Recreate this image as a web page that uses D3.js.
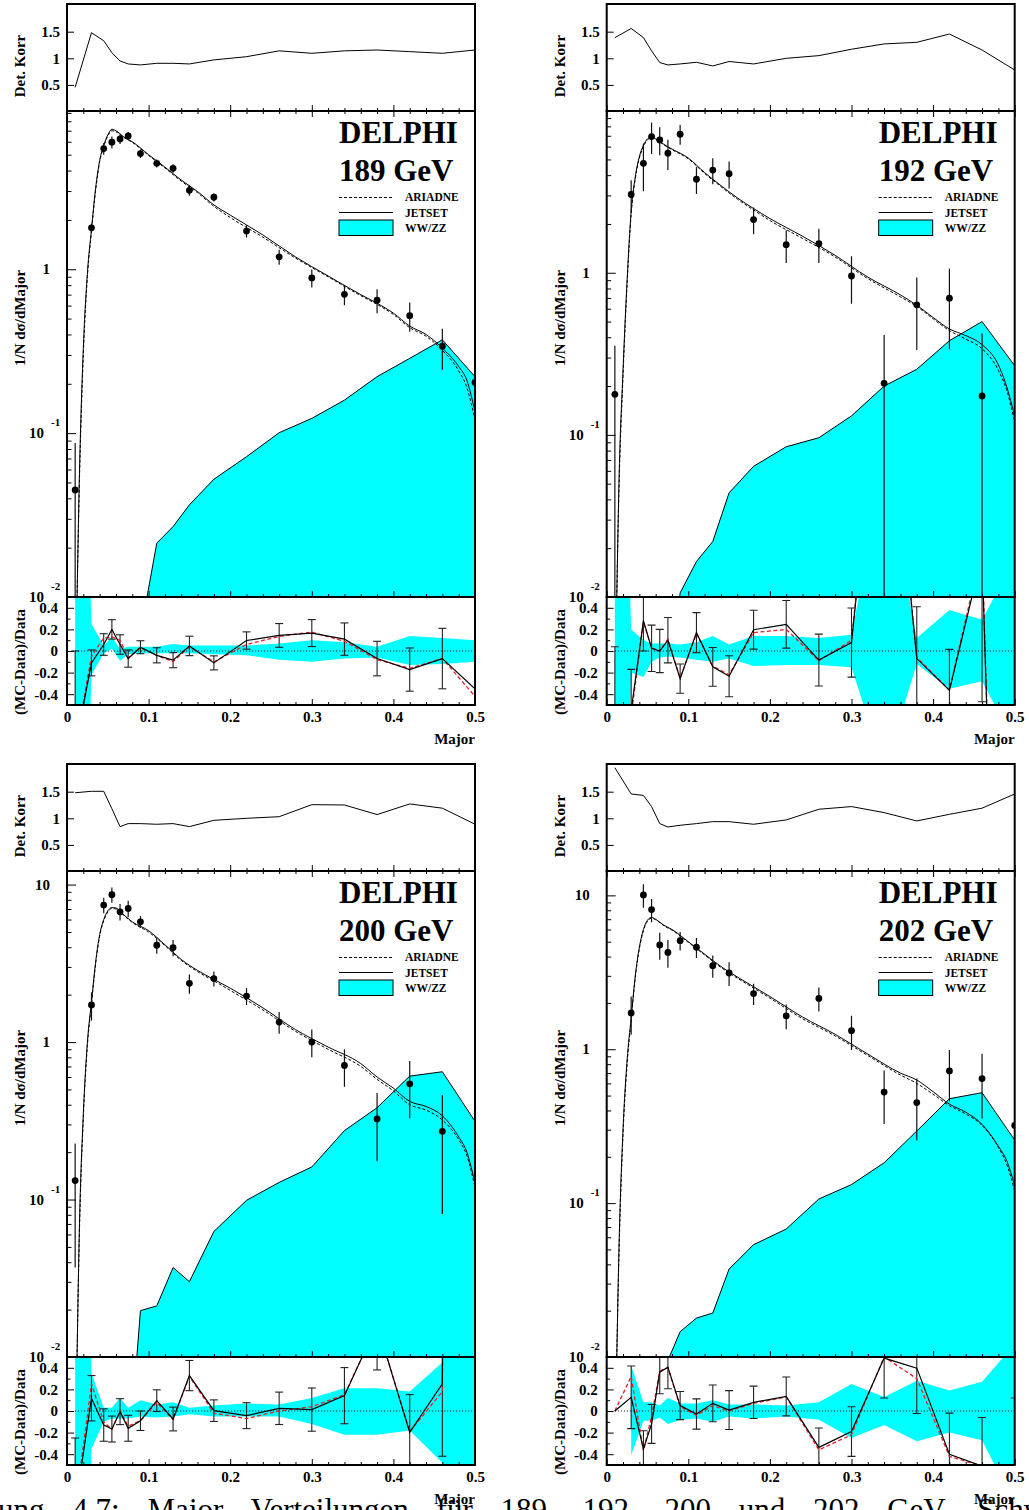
<!DOCTYPE html>
<html>
<head>
<meta charset="utf-8">
<script src="https://cdn.jsdelivr.net/npm/d3@7"></script>
<style>
body { margin: 0; background: #fff; }
svg text { font-family: "Liberation Serif", "DejaVu Serif", serif; font-weight: bold; fill: #000; }
</style>
</head>
<body>
<svg id="chart" width="1029" height="1510"></svg>
<script>
// bin centres of the measured distribution
var binX = [0.01, 0.03, 0.045, 0.055, 0.065, 0.075, 0.09, 0.11, 0.13, 0.15, 0.18, 0.22, 0.26, 0.30, 0.34, 0.38, 0.42, 0.46, 0.50];
// sampling points of the MC curves
var mcX = [0.012, 0.015, 0.02, 0.025, 0.03, 0.035, 0.04, 0.045, 0.05, 0.055, 0.06, 0.07, 0.08, 0.10, 0.12, 0.14, 0.16, 0.18, 0.20, 0.24, 0.28, 0.32, 0.36, 0.38, 0.40, 0.42, 0.44, 0.46, 0.48, 0.49, 0.50];

var xTicks = [0, 0.1, 0.2, 0.3, 0.4, 0.5];
var xTickLabels = ["0", "0.1", "0.2", "0.3", "0.4", "0.5"];
var korrTicks = [0.5, 1, 1.5];
var korrTickLabels = ["0.5", "1", "1.5"];
var ratioTicks = [-0.4, -0.2, 0, 0.2, 0.4];
var ratioTickLabels = ["-0.4", "-0.2", "0", "0.2", "0.4"];
var logTicks = [0.01, 0.1, 1, 10];
var logTickBase = ["10", "10", "1", "10"];
var logTickExp = ["-2", "-1", "", ""];

// detector correction
var korr189 = [0.456, 1.48, 1.33, 1.105, 0.95, 0.894, 0.875, 0.906, 0.906, 0.894, 0.97, 1.03, 1.14, 1.094, 1.14, 1.156, 1.125, 1.094, 1.156];
var korr192 = [1.387, 1.56, 1.39, 1.14, 0.92, 0.875, 0.894, 0.925, 0.856, 0.94, 0.894, 1.0, 1.05, 1.17, 1.27, 1.30, 1.456, 1.156, 0.78];
var korr200 = [1.48, 1.507, 1.507, 1.18, 0.844, 0.9, 0.9, 0.888, 0.9, 0.844, 0.962, 1.0, 1.03, 1.256, 1.25, 1.07, 1.27, 1.19, 0.888];
var korr202 = [1.95, 1.457, 1.43, 1.22, 0.9, 0.837, 0.869, 0.9, 0.937, 0.937, 0.888, 0.969, 1.17, 1.22, 1.107, 0.95, 1.075, 1.19, 1.457];

// data 1/N dsigma/dMajor with errors
var data189 = [0.045, 1.79, 5.45, 5.96, 6.24, 6.51, 5.08, 4.43, 4.13, 3.03, 2.75, 1.71, 1.19, 0.885, 0.703, 0.647, 0.521, 0.339, 0.204];
var err189 = [0.042, 0.11, 0.45, 0.5, 0.43, 0.36, 0.3, 0.25, 0.25, 0.22, 0.16, 0.15, 0.125, 0.11, 0.1, 0.108, 0.105, 0.095, 0.03];
var data192 = [0.178, 3.04, 4.73, 6.92, 6.6, 5.46, 7.15, 3.78, 4.3, 4.08, 2.13, 1.49, 1.51, 0.955, 0.208, 0.634, 0.697, 0.174, null];
var err192 = [0.177, 0.68, 1.55, 1.52, 1.3, 1.15, 1.0, 0.72, 0.79, 0.77, 0.4, 0.34, 0.36, 0.31, 0.205, 0.3, 0.36, 0.25, null];
var data200 = [0.132, 1.72, 7.41, 8.62, 6.72, 7.06, 5.8, 4.12, 3.98, 2.36, 2.53, 1.96, 1.34, 1.0, 0.71, 0.325, 0.543, 0.271, null];
var err200 = [0.095, 0.35, 0.83, 0.95, 0.8, 0.85, 0.5, 0.48, 0.47, 0.33, 0.28, 0.24, 0.21, 0.2, 0.19, 0.15, 0.215, 0.19, null];
var data202 = [null, 1.72, 10.07, 8.08, 4.76, 4.26, 5.08, 4.6, 3.49, 3.13, 2.3, 1.65, 2.14, 1.32, 0.527, 0.45, 0.723, 0.645, 0.32];
var err202 = [null, 0.48, 1.75, 1.4, 0.95, 0.87, 0.7, 0.68, 0.58, 0.55, 0.36, 0.3, 0.38, 0.33, 0.2, 0.195, 0.265, 0.29, 0.1];

// MC predictions (JETSET solid, ARIADNE dashed)
var jet189 = [0.008, 0.05, 0.33, 0.95, 1.75, 3.1, 4.6, 5.7, 6.6, 7.15, 7.0, 6.4, 6.0, 5.0, 4.2, 3.5, 2.98, 2.47, 2.14, 1.62, 1.19, 0.91, 0.70, 0.62, 0.54, 0.45, 0.40, 0.33, 0.255, 0.21, 0.135];
var ari189 = [0.008, 0.045, 0.3, 0.9, 1.7, 3.0, 4.5, 5.6, 6.5, 7.0, 6.9, 6.35, 5.95, 4.95, 4.15, 3.45, 2.93, 2.42, 2.07, 1.57, 1.17, 0.9, 0.69, 0.61, 0.53, 0.44, 0.39, 0.32, 0.24, 0.19, 0.12];
var jet192 = [0.008, 0.05, 0.25, 0.9, 2.4, 3.9, 5.2, 6.1, 6.7, 6.85, 6.7, 6.2, 5.8, 5.1, 4.15, 3.45, 2.9, 2.49, 2.16, 1.68, 1.28, 0.94, 0.73, 0.63, 0.53, 0.45, 0.41, 0.36, 0.27, 0.2, 0.13];
var ari192 = [0.008, 0.045, 0.23, 0.85, 2.3, 3.8, 5.1, 6.0, 6.6, 6.8, 6.65, 6.15, 5.75, 5.05, 4.1, 3.4, 2.85, 2.44, 2.1, 1.63, 1.25, 0.92, 0.71, 0.62, 0.52, 0.44, 0.39, 0.34, 0.25, 0.19, 0.12];
var jet200 = [0.008, 0.06, 0.35, 1.0, 1.8, 3.2, 4.8, 6.0, 6.8, 7.15, 7.1, 6.4, 5.8, 5.1, 4.15, 3.35, 2.85, 2.5, 2.2, 1.65, 1.2, 0.93, 0.73, 0.6, 0.51, 0.42, 0.39, 0.34, 0.25, 0.2, 0.127];
var ari200 = [0.008, 0.055, 0.33, 0.95, 1.75, 3.1, 4.7, 5.9, 6.7, 7.05, 7.0, 6.35, 5.75, 5.0, 4.1, 3.3, 2.8, 2.45, 2.13, 1.6, 1.17, 0.9, 0.7, 0.58, 0.49, 0.4, 0.37, 0.32, 0.24, 0.19, 0.12];
var jet202 = [0.008, 0.05, 0.3, 0.85, 1.6, 3.0, 4.6, 6.0, 6.9, 7.2, 7.0, 6.4, 6.0, 5.0, 4.15, 3.45, 2.95, 2.55, 2.2, 1.62, 1.25, 0.93, 0.7, 0.631, 0.53, 0.44, 0.39, 0.325, 0.234, 0.19, 0.13];
var ari202 = [0.008, 0.045, 0.28, 0.8, 1.55, 2.9, 4.5, 5.9, 6.8, 7.1, 6.95, 6.35, 5.95, 4.95, 4.1, 3.4, 2.9, 2.5, 2.15, 1.58, 1.22, 0.91, 0.68, 0.6, 0.51, 0.43, 0.38, 0.32, 0.23, 0.18, 0.12];

// WW/ZZ background
var ww189 = [1e-4, 1e-4, 1e-4, 1e-4, 1e-4, 1e-4, 0.006, 0.0213, 0.0269, 0.0365, 0.0523, 0.0718, 0.1006, 0.123, 0.159, 0.221, 0.286, 0.371, 0.221];
var ww192 = [1e-4, 1e-4, 1e-4, 1e-4, 1e-4, 0.002, 0.0106, 0.01655, 0.022, 0.0439, 0.064, 0.0845, 0.096, 0.131, 0.2, 0.254, 0.381, 0.5, 0.267];
var ww200 = [1e-4, 1e-4, 1e-4, 1e-4, 1e-4, 0.002, 0.0197, 0.0211, 0.037, 0.0301, 0.0627, 0.0988, 0.1285, 0.161, 0.274, 0.383, 0.608, 0.648, 0.314];
var ww202 = [1e-4, 1e-4, 1e-4, 1e-4, 0.001, 0.0095, 0.0146, 0.0179, 0.0193, 0.0373, 0.0537, 0.0679, 0.1064, 0.132, 0.183, 0.294, 0.477, 0.522, 0.257];

// (MC-Data)/Data : JETSET (black), ARIADNE (red), errors, WW/ZZ band
var rj189 = [-0.9, -0.11, 0.06, 0.2, 0.06, -0.07, 0.035, -0.04, -0.085, 0.047, -0.11, 0.097, 0.144, 0.166, 0.11, -0.07, -0.172, -0.07, -0.35];
var ra189 = [-0.9, -0.05, 0.12, 0.13, 0.1, -0.06, 0.03, -0.04, -0.1, 0.04, -0.1, 0.06, 0.135, 0.175, 0.09, -0.08, -0.16, -0.07, -0.42];
var re189 = [0.9, 0.12, 0.1, 0.09, 0.09, 0.08, 0.06, 0.07, 0.07, 0.09, 0.065, 0.08, 0.11, 0.125, 0.15, 0.16, 0.2, 0.28, 0];
var bu189 = [5, 0.25, 0.05, 0.13, 0.02, 0.04, 0.04, 0.04, 0.065, 0.05, 0.05, 0.05, 0.07, 0.1, 0.08, 0.04, 0.14, 0.12, 0.1];
var bl189 = [-5, -0.22, -0.02, 0.02, -0.09, -0.03, -0.02, -0.02, -0.02, -0.02, -0.03, -0.04, -0.08, -0.1, -0.07, -0.06, -0.13, -0.12, -0.1];

var rj192 = [-1.5, -0.55, 0.28, 0.025, 0.0, 0.1, -0.256, 0.17, -0.147, -0.234, 0.197, 0.247, -0.084, 0.078, 3.0, -0.07, -0.365, 0.89, -9];
var ra192 = [-1.5, -0.6, 0.27, 0.03, 0.0, 0.11, -0.25, 0.16, -0.14, -0.22, 0.17, 0.2, -0.09, 0.1, 3.0, -0.06, -0.36, 0.95, -9];
var re192 = [1.54, 0.38, 0.28, 0.215, 0.2, 0.21, 0.135, 0.185, 0.18, 0.19, 0.18, 0.22, 0.24, 0.32, 0, 0.48, 0.38, 1.36, 0];
var bu192 = [5, 0.2, 0.1, 0.07, 0.07, 0.07, 0.06, 0.08, 0.14, 0.06, 0.14, 0.14, 0.12, 0.15, 1.7, 0.12, 0.38, 0.29, 0.85];
var bl192 = [-5, -0.2, -0.24, -0.1, -0.06, -0.05, -0.06, -0.08, -0.1, -0.07, -0.14, -0.13, -0.13, -0.15, -1.1, -0.12, -0.35, -0.28, -0.85];

var rj200 = [-0.9, 0.118, -0.13, -0.167, -0.006, -0.16, -0.09, 0.096, -0.074, 0.328, 0.003, -0.043, 0.025, 0.013, 0.142, 0.8, -0.198, 0.251, 50];
var ra200 = [-0.9, 0.25, -0.1, -0.17, 0.0, -0.14, -0.09, 0.08, -0.08, 0.32, -0.02, -0.07, 0.0, 0.04, 0.15, 0.8, -0.19, 0.18, 50];
var re200 = [0.65, 0.21, 0.15, 0.12, 0.12, 0.12, 0.09, 0.1, 0.11, 0.14, 0.1, 0.12, 0.15, 0.2, 0.26, 0.42, 0.35, 0.67, 0];
var bu200 = [5, 0.35, 0.03, 0.03, 0.12, 0.03, 0.1, 0.06, 0.08, 0.03, 0.05, 0.07, 0.06, 0.12, 0.21, 0.21, 0.18, 0.45, 3];
var bl200 = [-5, -0.35, -0.1, -0.07, -0.07, -0.07, -0.05, -0.06, -0.05, -0.03, -0.05, -0.05, -0.05, -0.12, -0.22, -0.22, -0.18, -0.48, -3];

var rj202 = [0.0, 0.127, -0.353, -0.12, 0.36, 0.406, 0.05, -0.028, 0.071, 0.009, 0.08, 0.135, -0.337, -0.19, 0.49, 0.397, -0.4, -0.51, -0.8];
var ra202 = [0.0, 0.32, -0.37, -0.05, 0.37, 0.4, 0.04, -0.04, 0.05, 0.0, 0.07, 0.13, -0.36, -0.22, 0.5, 0.3, -0.42, -0.51, -0.8];
var re202 = [0, 0.29, 0.17, 0.18, 0.2, 0.2, 0.13, 0.14, 0.17, 0.18, 0.15, 0.18, 0.18, 0.23, 0.37, 0.42, 0.38, 0.45, 0.92];
var bu202 = [null, 0.42, 0.08, 0.08, 0.05, 0.12, 0.07, 0.07, 0.1, 0.06, 0.06, 0.05, 0.08, 0.25, 0.13, 0.28, 0.19, 0.27, 0.62];
var bl202 = [null, -0.41, -0.09, -0.09, -0.06, -0.12, -0.08, -0.07, -0.1, -0.05, -0.07, -0.05, -0.08, -0.25, -0.13, -0.28, -0.2, -0.27, -0.87];

var panels = [
  {energy: "189 GeV", col: 0, row: 0, ymax: 9.24, korr: korr189, data: data189, err: err189, jet: jet189, ari: ari189, ww: ww189, rj: rj189, ra: ra189, re: re189, bu: bu189, bl: bl189},
  {energy: "192 GeV", col: 1, row: 0, ymax: 9.95, korr: korr192, data: data192, err: err192, jet: jet192, ari: ari192, ww: ww192, rj: rj192, ra: ra192, re: re192, bu: bu192, bl: bl192},
  {energy: "200 GeV", col: 0, row: 1, ymax: 12.2, korr: korr200, data: data200, err: err200, jet: jet200, ari: ari200, ww: ww200, rj: rj200, ra: ra200, re: re200, bu: bu200, bl: bl200},
  {energy: "202 GeV", col: 1, row: 1, ymax: 14.4, korr: korr202, data: data202, err: err202, jet: jet202, ari: ari202, ww: ww202, rj: rj202, ra: ra202, re: re202, bu: bu202, bl: bl202}
];

var svg = d3.select("#chart");
var defs = svg.append("defs");
var CYAN = "#00ffff", RED = "#e8202a";

function makeClip(id, x0, y0, w, h) {
  defs.append("clipPath").attr("id", id).append("rect")
    .attr("x", x0).attr("y", y0).attr("width", w).attr("height", h);
  return "url(#" + id + ")";
}

function tickAxis(g, axis, y) {
  var a = g.append("g").attr("transform", "translate(0," + y + ")").call(axis);
  a.select(".domain").remove();
  a.selectAll("line").attr("stroke", "#000").attr("stroke-width", 1);
  return a;
}

function drawPanel(p, idx) {
  var x0 = p.col ? 606.7 : 67, x1 = x0 + 408, yo = p.row * 760;
  var x = d3.scaleLinear().domain([0, 0.5]).range([x0, x1]);
  var yK = d3.scaleLinear().domain([0.01, 2.02]).range([yo + 111, yo + 4]);
  var yM = d3.scaleLog().domain([0.01, p.ymax]).range([yo + 597, yo + 111]);
  var yR = d3.scaleLinear().domain([-0.5, 0.5]).range([yo + 705, yo + 597]);
  var g = svg.append("g");
  var minorX = d3.range(0.02, 0.5, 0.02).filter(function (v) { return Math.abs(v * 10 - Math.round(v * 10)) > 1e-6; });

  // ---------- Det. Korr pad ----------
  var cK = makeClip("ck" + idx, x0, yo + 4, 408, 107);
  g.append("path").datum(p.korr)
    .attr("clip-path", cK)
    .attr("fill", "none").attr("stroke", "#000").attr("stroke-width", 1)
    .attr("d", d3.line().x(function (d, i) { return x(binX[i]); }).y(function (d) { return yK(d); }));
  tickAxis(g, d3.axisBottom(x).tickValues(xTicks).tickSize(-6).tickFormat(""), yo + 111);
  tickAxis(g, d3.axisBottom(x).tickValues(minorX).tickSize(-3).tickFormat(""), yo + 111);
  var ka = g.append("g").attr("transform", "translate(" + x0 + ",0)")
    .call(d3.axisLeft(yK).tickValues(korrTicks).tickSize(-7).tickPadding(7)
      .tickFormat(function (d, i) { return korrTickLabels[i]; }));
  ka.select(".domain").remove();
  ka.selectAll("text").style("font-size", "15px");
  g.append("rect").attr("x", x0).attr("y", yo + 4).attr("width", 408).attr("height", 107)
    .attr("fill", "none").attr("stroke", "#000").attr("stroke-width", 2);
  g.append("text").attr("transform", "translate(" + (x0 - 42) + "," + (yo + 66) + ") rotate(-90)")
    .attr("text-anchor", "middle").style("font-size", "15px").text("Det. Korr");

  // ---------- main pad ----------
  var cM = makeClip("cm" + idx, x0, yo + 111, 408, 486);
  g.append("path").datum(p.ww)
    .attr("clip-path", cM)
    .attr("fill", CYAN).attr("stroke", "none")
    .attr("d", d3.area().x(function (d, i) { return x(binX[i]); }).y0(yo + 610).y1(function (d) { return yM(d); }));
  g.append("path").datum(p.ww)
    .attr("clip-path", cM)
    .attr("fill", "none").attr("stroke", "#000").attr("stroke-width", 1)
    .attr("d", d3.line().x(function (d, i) { return x(binX[i]); }).y(function (d) { return yM(d); }));

  var mcLine = d3.line().curve(d3.curveMonotoneX)
    .x(function (d, i) { return x(mcX[i]); }).y(function (d) { return yM(d); });
  g.append("path").datum(p.ari).attr("clip-path", cM)
    .attr("fill", "none").attr("stroke", "#000").attr("stroke-width", 1).attr("stroke-dasharray", "3,2")
    .attr("d", mcLine);
  g.append("path").datum(p.jet).attr("clip-path", cM)
    .attr("fill", "none").attr("stroke", "#000").attr("stroke-width", 1)
    .attr("d", mcLine);

  var pts = binX.map(function (bx, i) { return {x: bx, v: p.data[i], e: p.err[i]}; })
    .filter(function (d) { return d.v != null; });
  var gp = g.append("g").attr("clip-path", cM);
  gp.selectAll("line.eb").data(pts).enter().append("line")
    .attr("x1", function (d) { return x(d.x); }).attr("x2", function (d) { return x(d.x); })
    .attr("y1", function (d) { return yM(d.v + d.e); })
    .attr("y2", function (d) { return d.v - d.e > 1e-4 ? yM(d.v - d.e) : yo + 620; })
    .attr("stroke", "#111").attr("stroke-width", 1.2);
  gp.selectAll("circle").data(pts).enter().append("circle")
    .attr("cx", function (d) { return x(d.x); }).attr("cy", function (d) { return yM(d.v); })
    .attr("r", 3.4).attr("fill", "#000");

  tickAxis(g, d3.axisTop(x).tickValues(xTicks).tickSize(-6).tickFormat(""), yo + 111);
  tickAxis(g, d3.axisTop(x).tickValues(minorX).tickSize(-3).tickFormat(""), yo + 111);
  tickAxis(g, d3.axisBottom(x).tickValues(xTicks).tickSize(-6).tickFormat(""), yo + 597);
  tickAxis(g, d3.axisBottom(x).tickValues(minorX).tickSize(-3).tickFormat(""), yo + 597);

  var ymin = yM.domain()[0], ymx = yM.domain()[1];
  var minorLog = [];
  [0.01, 0.1, 1, 10].forEach(function (dec) {
    for (var k = 2; k <= 9; k++) { if (dec * k <= ymx) minorLog.push(dec * k); }
  });
  var shown = logTicks.filter(function (v) { return v >= ymin && v <= ymx; });
  var la = g.append("g").attr("transform", "translate(" + x0 + ",0)");
  la.call(d3.axisLeft(yM).tickValues(shown).tickSize(-9).tickFormat(""));
  la.append("g").call(d3.axisLeft(yM).tickValues(minorLog).tickSize(-4.5).tickFormat(""));
  la.selectAll(".domain").remove();
  la.selectAll("line").attr("stroke", "#000");
  logTicks.forEach(function (v, i) {
    if (v < ymin || v > ymx) return;
    var yy = yM(v);
    if (logTickExp[i]) {
      g.append("text").attr("x", x0 - 23).attr("y", yy + 5).attr("text-anchor", "end")
        .style("font-size", "15px").text(logTickBase[i]);
      g.append("text").attr("x", x0 - 16).attr("y", yy - 7).attr("text-anchor", "start")
        .style("font-size", "11px").text(logTickExp[i]);
    } else {
      g.append("text").attr("x", x0 - 17).attr("y", yy + 5).attr("text-anchor", "end")
        .style("font-size", "15px").text(logTickBase[i]);
    }
  });
  g.append("rect").attr("x", x0).attr("y", yo + 111).attr("width", 408).attr("height", 486)
    .attr("fill", "none").attr("stroke", "#000").attr("stroke-width", 2);
  g.append("text").attr("transform", "translate(" + (x0 - 42) + "," + (yo + 318) + ") rotate(-90)")
    .attr("text-anchor", "middle").style("font-size", "15px").text("1/N dσ/dMajor");

  // legend and experiment label
  g.append("text").attr("x", x0 + 272).attr("y", yo + 142.5).style("font-size", "31px").text("DELPHI");
  g.append("text").attr("x", x0 + 272).attr("y", yo + 180.5).style("font-size", "31px").text(p.energy);
  g.append("line").attr("x1", x0 + 272).attr("x2", x0 + 326).attr("y1", yo + 197.5).attr("y2", yo + 197.5)
    .attr("stroke", "#000").attr("stroke-dasharray", "3,2");
  g.append("line").attr("x1", x0 + 272).attr("x2", x0 + 326).attr("y1", yo + 212.5).attr("y2", yo + 212.5)
    .attr("stroke", "#000");
  g.append("rect").attr("x", x0 + 272).attr("y", yo + 220).attr("width", 54).attr("height", 15.5)
    .attr("fill", CYAN).attr("stroke", "#000").attr("stroke-width", 1);
  [["ARIADNE", 201], ["JETSET", 216.5], ["WW/ZZ", 232]].forEach(function (t) {
    g.append("text").attr("x", x0 + 338).attr("y", yo + t[1]).style("font-size", "11.5px").text(t[0]);
  });

  // ---------- ratio pad ----------
  var cR = makeClip("cr" + idx, x0, yo + 597, 408, 108);
  var gr = g.append("g").attr("clip-path", cR);
  gr.append("path").datum(binX.map(function (bx, i) { return {x: bx, u: p.bu[i], l: p.bl[i]}; }))
    .attr("fill", CYAN).attr("stroke", "none")
    .attr("d", d3.area().defined(function (d) { return d.u != null; })
      .x(function (d) { return x(d.x); }).y0(function (d) { return yR(d.l); }).y1(function (d) { return yR(d.u); }));
  gr.append("line").attr("x1", x(0.01)).attr("x2", x(0.5)).attr("y1", yR(0)).attr("y2", yR(0))
    .attr("stroke", "#000").attr("stroke-width", 1).attr("stroke-dasharray", "1,2");

  var rp = binX.map(function (bx, i) { return {x: bx, v: p.rj[i], e: p.re[i]}; })
    .filter(function (d) { return d.e > 0; });
  var eb = gr.selectAll("g.rb").data(rp).enter().append("g");
  eb.append("line")
    .attr("x1", function (d) { return x(d.x); }).attr("x2", function (d) { return x(d.x); })
    .attr("y1", function (d) { return yR(d.v + d.e); }).attr("y2", function (d) { return yR(d.v - d.e); })
    .attr("stroke", "#222").attr("stroke-width", 1.1);
  [1, -1].forEach(function (s) {
    eb.append("line")
      .attr("x1", function (d) { return x(d.x) - 4; }).attr("x2", function (d) { return x(d.x) + 4; })
      .attr("y1", function (d) { return yR(d.v + s * d.e); }).attr("y2", function (d) { return yR(d.v + s * d.e); })
      .attr("stroke", "#222").attr("stroke-width", 1.1);
  });
  var rLine = d3.line().x(function (d, i) { return x(binX[i]); }).y(function (d) { return yR(d); });
  gr.append("path").datum(p.ra).attr("fill", "none").attr("stroke", RED).attr("stroke-width", 1.3)
    .attr("stroke-dasharray", "4,2.5").attr("d", rLine);
  gr.append("path").datum(p.rj).attr("fill", "none").attr("stroke", "#000").attr("stroke-width", 1.2)
    .attr("d", rLine);

  tickAxis(g, d3.axisBottom(x).tickValues(minorX).tickSize(-3).tickFormat(""), yo + 705);
  var xa = tickAxis(g, d3.axisBottom(x).tickValues(xTicks).tickSize(-6).tickPadding(6)
    .tickFormat(function (d, i) { return xTickLabels[i]; }), yo + 705);
  xa.selectAll("text").style("font-size", "15px");
  var ra = g.append("g").attr("transform", "translate(" + x0 + ",0)")
    .call(d3.axisLeft(yR).tickValues(ratioTicks).tickSize(-7).tickPadding(9)
      .tickFormat(function (d, i) { return ratioTickLabels[i]; }));
  ra.append("g").call(d3.axisLeft(yR).tickValues([-0.3, -0.1, 0.1, 0.3]).tickSize(-3.5).tickFormat(""));
  ra.selectAll(".domain").remove();
  ra.selectAll("text").style("font-size", "15px");
  g.append("rect").attr("x", x0).attr("y", yo + 597).attr("width", 408).attr("height", 108)
    .attr("fill", "none").attr("stroke", "#000").attr("stroke-width", 2);
  g.append("text").attr("transform", "translate(" + (x0 - 42) + "," + (yo + 662) + ") rotate(-90)")
    .attr("text-anchor", "middle").style("font-size", "15px").text("(MC-Data)/Data");
  g.append("text").attr("x", x1).attr("y", yo + 744).attr("text-anchor", "end")
    .style("font-size", "15px").text("Major");
}

panels.forEach(drawPanel);

// figure caption, cut by the bottom of the page (justified line)
svg.append("text").attr("x", -88).attr("y", 1520)
  .style("font-size", "31px").style("font-weight", "normal").style("word-spacing", "20px")
  .text("Abbildung 4.7: Major Verteilungen für 189, 192, 200 und 202 GeV. Schwarz");
</script>
</body>
</html>
